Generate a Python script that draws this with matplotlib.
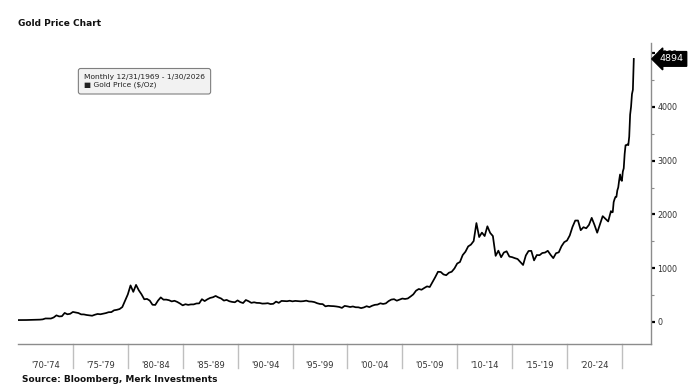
import matplotlib
matplotlib.use("Agg")
import matplotlib.pyplot as plt
import matplotlib.transforms as mtransforms
import numpy as np

# Quarter-end gold prices ($/oz), 1970 Q1 .. 2023 Q4
quarterly_prices = [
    35.0, 35.5, 36.2, 37.4,      # 1970
    38.9, 40.1, 42.0, 43.5,      # 1971
    48.3, 65.1, 65.5, 63.9,      # 1972
    84.0, 123.0, 103.0, 106.7,   # 1973
    168.0, 143.0, 151.8, 186.5,  # 1974
    177.0, 166.3, 141.3, 140.3,  # 1975
    129.6, 123.8, 116.0, 134.5,  # 1976
    148.9, 143.0, 154.1, 164.9,  # 1977
    181.6, 183.1, 217.1, 226.0,  # 1978
    240.1, 277.5, 397.3, 512.0,  # 1979
    680.0, 560.0, 690.0, 589.8,  # 1980
    513.8, 422.0, 428.8, 397.5,  # 1981
    320.0, 317.0, 397.0, 456.9,  # 1982
    414.8, 416.0, 405.0, 382.4,  # 1983
    394.3, 373.0, 343.8, 309.0,  # 1984
    330.0, 317.8, 326.5, 326.8,  # 1985
    344.0, 345.8, 423.5, 388.8,  # 1986
    421.8, 447.3, 459.5, 484.1,  # 1987
    456.9, 436.6, 397.7, 410.2,  # 1988
    385.2, 373.0, 366.5, 401.0,  # 1989
    368.5, 352.2, 408.4, 386.2,  # 1990
    355.7, 366.0, 354.9, 353.2,  # 1991
    341.7, 343.4, 349.0, 333.0,  # 1992
    337.8, 378.5, 355.5, 391.8,  # 1993
    389.2, 385.8, 394.9, 383.3,  # 1994
    392.0, 387.1, 383.2, 387.0,  # 1995
    396.3, 382.0, 379.0, 369.3,  # 1996
    348.2, 334.6, 332.1, 290.2,  # 1997
    301.0, 296.3, 293.9, 287.8,  # 1998
    279.5, 261.3, 299.0, 290.3,  # 1999
    278.4, 288.2, 273.7, 272.7,  # 2000
    257.7, 270.6, 293.1, 276.5,  # 2001
    301.4, 318.5, 323.7, 347.2,  # 2002
    334.9, 346.0, 388.0, 416.3,  # 2003
    423.7, 395.8, 415.7, 435.6,  # 2004
    427.5, 437.1, 473.3, 513.0,  # 2005
    582.0, 613.5, 599.3, 632.0,  # 2006
    661.8, 650.5, 743.0, 833.8,  # 2007
    933.5, 930.3, 884.5, 869.8,  # 2008
    916.5, 934.5, 995.8, 1087.5, # 2009
    1115.5, 1244.0, 1307.0, 1405.5,  # 2010
    1439.0, 1505.5, 1840.0, 1580.0,  # 2011
    1662.5, 1598.5, 1780.0, 1657.5,  # 2012
    1598.3, 1230.0, 1326.5, 1204.5,  # 2013
    1291.8, 1315.0, 1216.5, 1206.0,  # 2014
    1187.0, 1171.0, 1114.0, 1060.0,  # 2015
    1237.0, 1320.8, 1322.5, 1145.9,  # 2016
    1244.9, 1242.3, 1283.1, 1291.0,  # 2017
    1323.9, 1250.5, 1187.3, 1279.0,  # 2018
    1295.4, 1409.0, 1485.3, 1514.8,  # 2019
    1608.9, 1768.1, 1886.9, 1887.6,  # 2020
    1707.7, 1763.2, 1742.8, 1806.0,  # 2021
    1937.0, 1807.3, 1660.6, 1812.4,  # 2022
    1969.0, 1919.4, 1870.1, 2062.4,  # 2023
]
# Month-end gold prices, Jan 2024 .. Jan 2026
monthly_prices = [
    2040, 2044, 2230, 2286, 2327, 2327, 2448, 2503, 2635, 2744, 2643, 2625,  # 2024
    2798, 2858, 3124, 3289, 3289, 3303, 3290, 3448, 3858, 4003, 4239, 4319,  # 2025
    4894,  # Jan 2026
]
band_labels = ["'70-'74", "'75-'79", "'80-'84", "'85-'89", "'90-'94", "'95-'99",
               "'00-'04", "'05-'09", "'10-'14", "'15-'19", "'20-'24"]
band_starts = [1970, 1975, 1980, 1985, 1990, 1995, 2000, 2005, 2010, 2015, 2020]
y_ticks = [0, 1000, 2000, 3000, 4000, 5000]

# x positions (decimal years)
xq = 1970 + (np.arange(len(quarterly_prices)) + 1) * 0.25
xm = 2024 + (np.arange(len(monthly_prices)) + 1) / 12.0
x = np.concatenate([[1969.98], xq, xm])
y = np.concatenate([[35.2], quarterly_prices, monthly_prices])

fig = plt.figure(figsize=(6.96, 3.88), dpi=100)
ax = fig.add_axes([18/696, 1-344/388, (651-18)/696, (344-43)/388])

ax.plot(x, y, color="black", lw=1.25, solid_joinstyle="round")

ax.set_xlim(1970.0, 1970 + 633/10.98)
ax.set_ylim(-410, 5190)

for s in ["left", "top"]:
    ax.spines[s].set_visible(False)
for s in ["right", "bottom"]:
    ax.spines[s].set_color("#8c8c8c")
    ax.spines[s].set_linewidth(1.0)

# y axis on right
ax.yaxis.tick_right()
ax.set_yticks(y_ticks)
ax.set_yticklabels([str(v) for v in y_ticks])
ax.set_yticks([500, 1500, 2500, 3500, 4500], minor=True)
ax.tick_params(axis="y", which="major", direction="out", length=3, width=1.6,
               color="black", labelsize=5.8, labelcolor="#333333", pad=1.5)
ax.tick_params(axis="y", which="minor", direction="out", length=2, width=0.8,
               color="#8c8c8c")

# x axis: bands
centers = [s + 2.5 for s in band_starts]
ax.set_xticks(centers)
ax.set_xticklabels(band_labels)
ax.tick_params(axis="x", which="major", length=0, labelsize=6, labelcolor="#333333", pad=12)
trans = mtransforms.blended_transform_factory(ax.transData, ax.transAxes)
for s in band_starts[1:] + [2025]:
    ax.plot([s, s], [0, -24/301], transform=trans, color="#bfbfbf", lw=1.0, clip_on=False)

# last value label
last = monthly_prices[-1]
trans_y = mtransforms.blended_transform_factory(ax.transAxes, ax.transData)
ax.text(1.014, last, f"{last:.0f}", transform=trans_y, ha="left", va="center",
        fontsize=6.8, color="white", zorder=10,
        bbox=dict(boxstyle="larrow,pad=0.3", fc="black", ec="black"))

# legend box
fig.text(84/696, 1-81/388, "Monthly 12/31/1969 - 1/30/2026\n\u25A0 Gold Price ($/Oz)",
         fontsize=5.4, color="#222222", ha="left", va="center", linespacing=1.45,
         bbox=dict(boxstyle="round,pad=0.75,rounding_size=0.3", fc="#f2f2f2", ec="#7f7f7f", lw=0.8))

fig.text(18/696, 1-23/388, "Gold Price Chart", fontsize=6.5, fontweight="bold",
         ha="left", va="center", color="#111111")
fig.text(22/696, 1-380/388, "Source: Bloomberg, Merk Investments", fontsize=6.5,
         fontweight="bold", ha="left", va="center", color="#111111")

fig.savefig("out.png", dpi=100)
